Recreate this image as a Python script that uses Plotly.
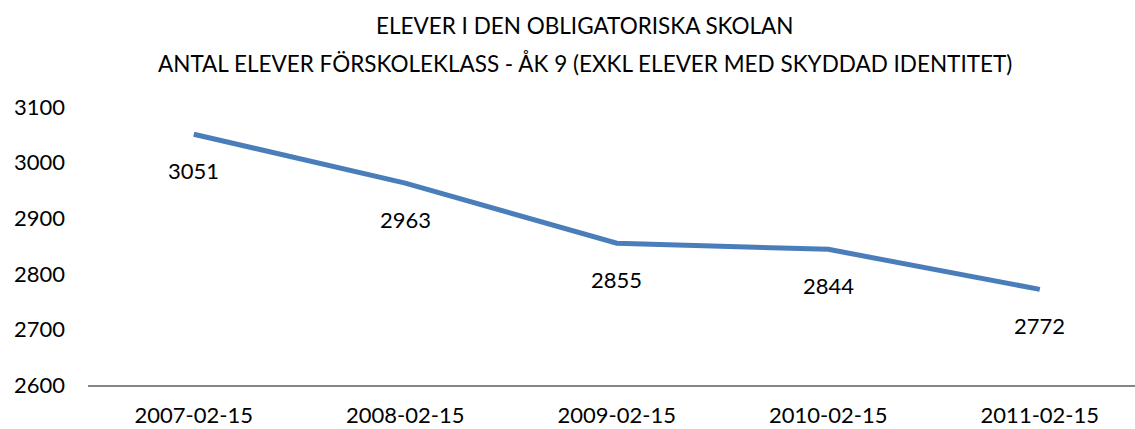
import plotly.graph_objects as go

categories = ["2007-02-15", "2008-02-15", "2009-02-15", "2010-02-15", "2011-02-15"]
values = [3051, 2963, 2855, 2844, 2772]
y_ticks = [2600, 2700, 2800, 2900, 3000, 3100]
title_line1 = "ELEVER I DEN OBLIGATORISKA SKOLAN"
title_line2 = "ANTAL ELEVER FÖRSKOLEKLASS - ÅK 9 (EXKL ELEVER MED SKYDDAD IDENTITET)"

FONT = "Lato"
fig = go.Figure()
fig.add_trace(go.Scatter(
    x=list(range(len(categories))), y=values, mode="lines",
    line=dict(color="#4A7EBB", width=5), hoverinfo="skip", showlegend=False,
))

annotations = []
for i, v in enumerate(values):
    annotations.append(dict(x=i, y=v, xref="x", yref="y", text=str(v), showarrow=False,
                            yanchor="middle", xanchor="center", yshift=-36,
                            font=dict(family=FONT, size=22, color="#000000")))
for txt, shift in [(title_line1, 82), (title_line2, 44)]:
    annotations.append(dict(x=0.4747, y=1, xref="paper", yref="paper", text=txt, showarrow=False,
                            yanchor="middle", xanchor="center", yshift=shift,
                            font=dict(family=FONT, size=22.5, color="#000000")))

fig.update_layout(
    width=1135, height=429,
    margin=dict(l=88, r=0, t=107, b=44),
    paper_bgcolor="white", plot_bgcolor="white",
    font=dict(family=FONT, size=22, color="#000000"),
    annotations=annotations,
    xaxis=dict(
        range=[-0.5, 4.45], tickmode="array", tickvals=list(range(len(categories))),
        ticktext=categories, showgrid=False, zeroline=False, automargin=False,
        showline=True, linecolor="#868686", linewidth=1.5, ticks="",
        ticklabelstandoff=10,
    ),
    yaxis=dict(
        range=[2600, 3100], tickmode="array", tickvals=y_ticks, automargin=False,
        showgrid=False, zeroline=False, showline=False, ticks="",
        ticklabelstandoff=22,
    ),
)

fig.write_html("out.html", config={"displayModeBar": False},
               post_script="document.body.style.margin='0';document.body.style.overflow='hidden';")
